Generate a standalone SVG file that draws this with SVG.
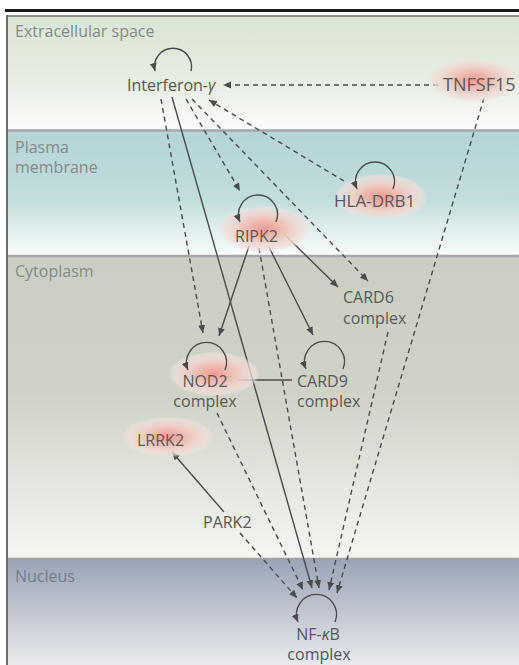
<svg xmlns="http://www.w3.org/2000/svg" width="519" height="665" viewBox="0 0 519 665">
<defs>
<linearGradient id="gExt" x1="0" y1="0" x2="0" y2="1">
<stop offset="0" stop-color="#dae5d4"/><stop offset="0.6" stop-color="#e7eee3"/><stop offset="1" stop-color="#fbfcfa"/>
</linearGradient>
<linearGradient id="gMem" x1="0" y1="0" x2="0" y2="1">
<stop offset="0" stop-color="#b3d4d5"/><stop offset="0.55" stop-color="#c2dddd"/><stop offset="1" stop-color="#fbfdfd"/>
</linearGradient>
<linearGradient id="gCyt" x1="0" y1="0" x2="0" y2="1">
<stop offset="0" stop-color="#cbcfc3"/><stop offset="0.45" stop-color="#cfd2c7"/><stop offset="1" stop-color="#f5f6f2"/>
</linearGradient>
<linearGradient id="gNuc" x1="0" y1="0" x2="0" y2="1">
<stop offset="0" stop-color="#9aa4b5"/><stop offset="1" stop-color="#e8eaee"/>
</linearGradient>
<radialGradient id="glow">
<stop offset="0" stop-color="#f19b91"/><stop offset="0.3" stop-color="#f0b4aa"/><stop offset="0.65" stop-color="#efd3cb" stop-opacity="0.9"/><stop offset="0.9" stop-color="#eee0da" stop-opacity="0.7"/><stop offset="1" stop-color="#eee4df" stop-opacity="0.2"/>
</radialGradient>
<marker id="ah" markerUnits="userSpaceOnUse" markerWidth="9" markerHeight="8" refX="8" refY="3.5" orient="auto">
<path d="M0,0 L8,3.5 L0,7 z" fill="#4b4b4d"/>
</marker>
</defs>
<style>
.lbl{font-family:"Open Sans","DejaVu Sans",sans-serif;font-size:16px;fill:#58585b}
.band{font-family:"Open Sans","DejaVu Sans",sans-serif;font-size:16px;fill:#86898a}
.c{fill:none;stroke:#4b4b4d;stroke-width:1.4}
.d{stroke-dasharray:5 4}
.a{marker-end:url(#ah)}
.g{fill:url(#glow)}
</style>

<g id="background">
<rect x="8" y="17" width="511" height="113" fill="url(#gExt)"/>
<rect x="8" y="131" width="511" height="125" fill="url(#gMem)"/>
<rect x="8" y="257" width="511" height="302" fill="url(#gCyt)"/>
<rect x="8" y="559" width="511" height="106" fill="url(#gNuc)"/>
<line x1="8" y1="130.5" x2="519" y2="130.5" stroke="#a7a7ab" stroke-width="2.5"/>
<line x1="8" y1="256" x2="519" y2="256" stroke="#a7a7ab" stroke-width="2.5"/>
<line x1="8" y1="559" x2="519" y2="559" stroke="#a0a2a8" stroke-width="2.5"/>
<line x1="5" y1="10.5" x2="519" y2="10.5" stroke="#1a1a1a" stroke-width="3"/>
<line x1="6" y1="16" x2="519" y2="16" stroke="#8c8c8c" stroke-width="2"/>
<line x1="7" y1="15" x2="7" y2="665" stroke="#6e6e6e" stroke-width="2"/>
<text class="band" x="15" y="37">Extracellular space</text>
<text class="band" x="15" y="153">Plasma</text>
<text class="band" x="15" y="173">membrane</text>
<text class="band" x="15" y="277">Cytoplasm</text>
<text class="band" x="15" y="582" style="fill:#747c8c">Nucleus</text>
</g>

<g id="connectors">
<path class="c d a" d="M438 85 L223 85"/>
<path class="c d a" d="M344 181 L209 100"/>
<path class="c d a" d="M161 99 L203 333"/>
<path class="c d a" d="M186 99 L240 191"/>
<path class="c d a" d="M192 99 L368 281"/>
<path class="c d a" d="M484 98 L337 593"/>
<path class="c d a" d="M259 248 L319 588"/>
<path class="c d a" d="M388 332 L329 590"/>
<path class="c d a" d="M217 413 L303 590"/>
<path class="c d a" d="M240 533 L297 598"/>
<path class="c a" d="M172 97 L312 588"/>
<path class="c a" d="M249 246 L219 336"/>
<path class="c a" d="M269 247 L313 335"/>
<path class="c a" d="M284 234 L338 287"/>
<path class="c a" d="M224 512 L172 452"/>
<path class="c" d="M238 380 L292 380"/>
</g>

<g id="tnfsf15">
<ellipse class="g" cx="474" cy="80" rx="45" ry="22"/>
<text class="lbl" x="443" y="91" style="font-size:18px">TNFSF15</text>
</g>
<g id="interferon">
<path class="c a" d="M191 71 A18.5 18.5 0 1 0 155 71"/>
<text class="lbl" x="127" y="91">Interferon-<tspan font-style="italic">γ</tspan></text>
</g>
<g id="hla-drb1">
<ellipse class="g" cx="381" cy="197" rx="46" ry="23"/>
<path class="c a" d="M393 189 A19.5 19.5 0 1 0 357 189"/>
<text class="lbl" x="334" y="207" style="font-size:17px">HLA-DRB1</text>
</g>
<g id="ripk2">
<ellipse class="g" cx="264" cy="229" rx="46" ry="23"/>
<path class="c a" d="M276 222 A19.5 19.5 0 1 0 240 222"/>
<text class="lbl" x="235" y="242">RIPK2</text>
</g>
<g id="card6">
<text class="lbl" x="343" y="303">CARD6</text>
<text class="lbl" x="343" y="324">complex</text>
</g>
<g id="nod2">
<ellipse class="g" cx="214" cy="374" rx="45" ry="22"/>
<path class="c a" d="M225 370 A20 20 0 1 0 188 370"/>
<text class="lbl" x="205" y="387" text-anchor="middle">NOD2</text>
<text class="lbl" x="205" y="407" text-anchor="middle">complex</text>
</g>
<g id="card9">
<path class="c a" d="M343 369 A20 20 0 1 0 306 369"/>
<text class="lbl" x="297" y="387">CARD9</text>
<text class="lbl" x="297" y="407">complex</text>
</g>
<g id="lrrk2">
<ellipse class="g" cx="168" cy="437" rx="45" ry="20"/>
<text class="lbl" x="137" y="446">LRRK2</text>
</g>
<g id="park2">
<text class="lbl" x="203" y="528">PARK2</text>
</g>
<g id="nfkb">
<path class="c a" d="M335 622 A20 20 0 1 0 298 622"/>
<text class="lbl" x="318" y="640" text-anchor="middle">NF-<tspan font-style="italic">κ</tspan>B</text>
<text class="lbl" x="319" y="660" text-anchor="middle">complex</text>
</g>
</svg>
